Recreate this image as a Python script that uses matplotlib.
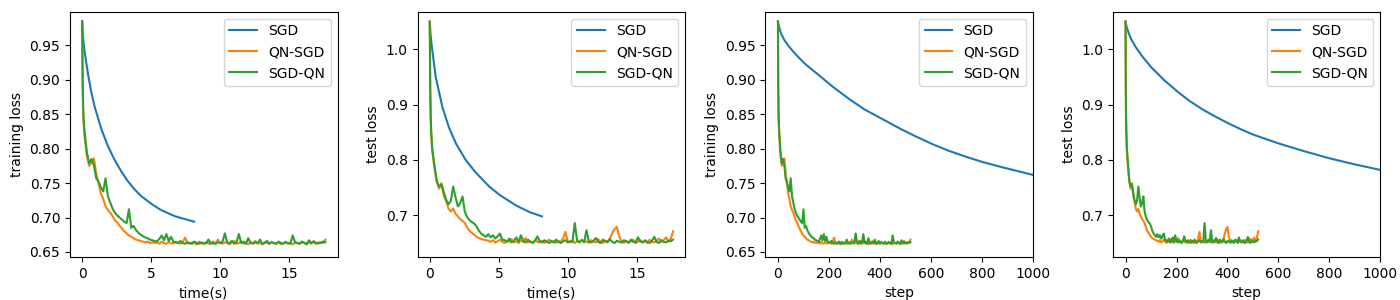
import matplotlib
matplotlib.use("Agg")
import matplotlib.pyplot as plt
import numpy as np

labels = ["SGD", "QN-SGD", "SGD-QN"]

# ---- QN-type methods: loss per step (shared by time and step panels) ----
qn_steps = [0, 1, 2, 3] + list(range(5, 521, 5))
qn_total_time = 17.6  # seconds for the full QN run

qnsgd_train = [
    0.985, 0.895, 0.858, 0.838,
    0.818, 0.790, 0.775, 0.780, 0.786, 0.765, 0.750, 0.735, 0.727, 0.716,
    0.711, 0.707, 0.702, 0.696, 0.693, 0.688, 0.684, 0.680, 0.677, 0.674,
    0.672, 0.670, 0.668, 0.667, 0.666, 0.665, 0.664, 0.665, 0.663, 0.664,
    0.663, 0.664, 0.662, 0.665, 0.663, 0.662, 0.664, 0.663, 0.662, 0.665,
    0.663, 0.662, 0.664, 0.671, 0.663, 0.662, 0.664, 0.663, 0.661, 0.665,
    0.662, 0.663, 0.664, 0.662, 0.663, 0.665, 0.662, 0.668, 0.663, 0.662,
    0.664, 0.663, 0.661, 0.664, 0.666, 0.662, 0.663, 0.665, 0.662, 0.663,
    0.661, 0.664, 0.663, 0.666, 0.662, 0.663, 0.661, 0.664, 0.663, 0.662,
    0.665, 0.663, 0.662, 0.664, 0.661, 0.663, 0.665, 0.662, 0.663, 0.661,
    0.664, 0.663, 0.662, 0.665, 0.663, 0.661, 0.664, 0.662, 0.666, 0.663,
    0.662, 0.664, 0.663, 0.668,
]
sgdqn_train = [
    0.985, 0.900, 0.862, 0.843,
    0.826, 0.795, 0.779, 0.785, 0.776, 0.757, 0.752, 0.744, 0.738, 0.757,
    0.731, 0.722, 0.713, 0.707, 0.703, 0.700, 0.697, 0.694, 0.692, 0.712,
    0.685, 0.688, 0.682, 0.678, 0.675, 0.673, 0.671, 0.670, 0.668, 0.667,
    0.666, 0.665, 0.669, 0.674, 0.667, 0.676, 0.666, 0.672, 0.665, 0.664,
    0.663, 0.666, 0.663, 0.662, 0.664, 0.663, 0.662, 0.665, 0.663, 0.662,
    0.664, 0.662, 0.663, 0.668, 0.662, 0.663, 0.662, 0.664, 0.663, 0.665,
    0.677, 0.664, 0.663, 0.666, 0.662, 0.664, 0.676, 0.663, 0.665, 0.662,
    0.670, 0.663, 0.662, 0.664, 0.663, 0.668, 0.662, 0.663, 0.666, 0.662,
    0.664, 0.663, 0.662, 0.665, 0.663, 0.662, 0.664, 0.663, 0.662, 0.674,
    0.664, 0.663, 0.662, 0.665, 0.663, 0.662, 0.667, 0.663, 0.665, 0.662,
    0.664, 0.663, 0.665, 0.664,
]
qnsgd_test = [
    1.050, 0.925, 0.875, 0.850,
    0.818, 0.785, 0.760, 0.748, 0.758, 0.735, 0.726, 0.712, 0.707, 0.712,
    0.703, 0.698, 0.693, 0.690, 0.686, 0.678, 0.672, 0.668, 0.665, 0.661,
    0.659, 0.657, 0.656, 0.655, 0.654, 0.652, 0.655, 0.651, 0.653, 0.656,
    0.652, 0.650, 0.654, 0.652, 0.657, 0.651, 0.653, 0.650, 0.655, 0.652,
    0.659, 0.651, 0.653, 0.650, 0.655, 0.652, 0.651, 0.654, 0.650, 0.653,
    0.656, 0.651, 0.653, 0.650, 0.654, 0.652, 0.658, 0.670, 0.653, 0.651,
    0.654, 0.650, 0.653, 0.652, 0.656, 0.651, 0.653, 0.650, 0.655, 0.652,
    0.651, 0.657, 0.652, 0.650, 0.654, 0.653, 0.658, 0.668, 0.675, 0.679,
    0.662, 0.652, 0.650, 0.654, 0.651, 0.653, 0.656, 0.650, 0.652, 0.655,
    0.651, 0.653, 0.650, 0.656, 0.652, 0.651, 0.654, 0.658, 0.652, 0.655,
    0.660, 0.653, 0.657, 0.671,
]
sgdqn_test = [
    1.050, 0.930, 0.880, 0.853,
    0.823, 0.790, 0.762, 0.752, 0.756, 0.742, 0.728, 0.720, 0.726, 0.752,
    0.733, 0.716, 0.722, 0.734, 0.706, 0.697, 0.691, 0.688, 0.685, 0.680,
    0.672, 0.667, 0.664, 0.661, 0.666, 0.660, 0.664, 0.658, 0.662, 0.667,
    0.656, 0.655, 0.652, 0.658, 0.651, 0.654, 0.660, 0.652, 0.664, 0.653,
    0.651, 0.656, 0.652, 0.650, 0.654, 0.662, 0.653, 0.651, 0.655, 0.652,
    0.650, 0.654, 0.651, 0.656, 0.652, 0.650, 0.653, 0.655, 0.651, 0.653,
    0.652, 0.686, 0.654, 0.651, 0.655, 0.652, 0.673, 0.653, 0.651, 0.654,
    0.659, 0.652, 0.650, 0.656, 0.653, 0.651, 0.657, 0.652, 0.650, 0.654,
    0.652, 0.651, 0.655, 0.653, 0.650, 0.656, 0.652, 0.651, 0.660, 0.653,
    0.651, 0.655, 0.652, 0.650, 0.654, 0.661, 0.652, 0.650, 0.655, 0.652,
    0.651, 0.654, 0.653, 0.656,
]

# ---- SGD vs time ----
sgd_train_time = [0, 0.05, 0.1, 0.17, 0.41, 0.65, 0.89, 1.38, 1.86, 2.34, 2.83,
                  3.30, 3.79, 4.28, 5.0, 5.7, 6.7, 8.1]
sgd_train_vs_time = [0.985, 0.966, 0.955, 0.942, 0.910, 0.883, 0.862, 0.829, 0.804,
                     0.784, 0.767, 0.753, 0.741, 0.731, 0.720, 0.711, 0.702, 0.694]
sgd_test_time = [0, 0.05, 0.1, 0.2, 0.43, 0.92, 1.4, 1.89, 2.6, 3.3, 4.3, 5.1,
                 6.3, 7.2, 8.12]
sgd_test_vs_time = [1.050, 1.030, 1.015, 0.995, 0.950, 0.895, 0.858, 0.830, 0.800,
                    0.778, 0.752, 0.736, 0.717, 0.706, 0.698]

# ---- SGD vs step ----
sgd_train_steps = [0, 3, 8, 15, 25, 40, 60, 80, 110, 150, 215, 280, 340, 410, 480,
                   540, 610, 670, 740, 800, 870, 935, 1000]
sgd_train_vs_step = [0.985, 0.979, 0.972, 0.965, 0.958, 0.950, 0.941, 0.933, 0.922,
                     0.910, 0.890, 0.872, 0.857, 0.843, 0.829, 0.818, 0.806, 0.797,
                     0.788, 0.781, 0.774, 0.768, 0.762]
sgd_test_steps = [0, 3, 8, 15, 25, 40, 66, 100, 150, 200, 250, 300, 350, 400, 450,
                  500, 600, 700, 800, 900, 1000]
sgd_test_vs_step = [1.050, 1.043, 1.035, 1.026, 1.016, 1.004, 0.987, 0.968, 0.945,
                    0.925, 0.907, 0.892, 0.879, 0.867, 0.856, 0.846, 0.830, 0.816,
                    0.803, 0.792, 0.782]

qn_time = np.array(qn_steps) * qn_total_time / qn_steps[-1]

fig, axes = plt.subplots(1, 4, figsize=(14, 3), dpi=100)
fig.subplots_adjust(left=0.050, right=0.986, top=0.961, bottom=0.144, wspace=0.299)

panels = [
    (axes[0], sgd_train_time, sgd_train_vs_time, qn_time, qnsgd_train, sgdqn_train, "time(s)", "training loss"),
    (axes[1], sgd_test_time, sgd_test_vs_time, qn_time, qnsgd_test, sgdqn_test, "time(s)", "test loss"),
    (axes[2], sgd_train_steps, sgd_train_vs_step, qn_steps, qnsgd_train, sgdqn_train, "step", "training loss"),
    (axes[3], sgd_test_steps, sgd_test_vs_step, qn_steps, qnsgd_test, sgdqn_test, "step", "test loss"),
]

for ax, sx, sy, qx, qa, qb, xl, yl in panels:
    ax.plot(sx, sy, label=labels[0])
    ax.plot(qx, qa, label=labels[1])
    ax.plot(qx, qb, label=labels[2])
    ax.set_xlabel(xl)
    ax.set_ylabel(yl)
    ax.legend(loc="upper right")

for ax in (axes[0], axes[2]):
    ax.set_ylim(0.643, 0.999)
for ax in (axes[1], axes[3]):
    ax.set_ylim(0.625, 1.068)
for ax in axes[2:]:
    ax.set_xlim(-50, 1000)

fig.savefig("out.png")
